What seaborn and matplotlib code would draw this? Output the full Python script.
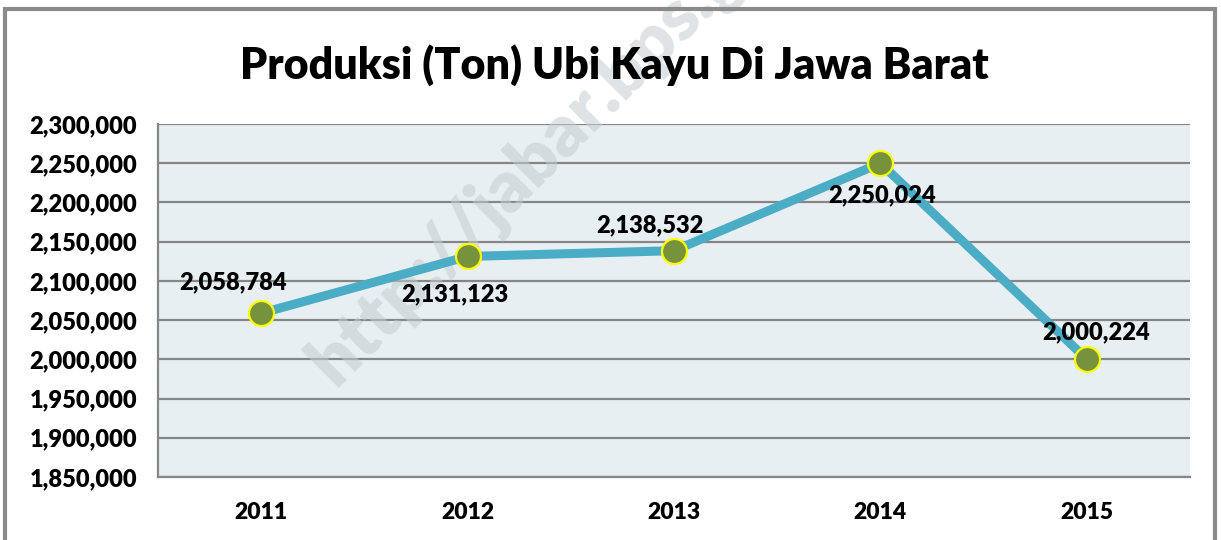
import pandas as pd
import numpy as np
import matplotlib as mpl
import matplotlib.pyplot as plt
import seaborn as sns
from matplotlib.ticker import FuncFormatter, FixedLocator
from matplotlib.patches import Rectangle

# data
years = ['2011', '2012', '2013', '2014', '2015']
produksi = [2058784, 2131123, 2138532, 2250024, 2000224]
y_ticks = list(range(1850000, 2300001, 50000))

# label offsets in points (dx, dy)
label_offsets = [(-20, 22), (-9, -27), (-17, 18), (1, -23), (7, 19)]

df = pd.DataFrame({'tahun': years, 'produksi': produksi})

sns.set_style('white')
plt.rcParams['font.family'] = ['Lato', 'DejaVu Sans']
W = 'heavy'

fig = plt.figure(figsize=(12.21, 5.40), dpi=100)
ax = fig.add_axes([158/1221, 1-477/540, (1190-158)/1221, (477-124)/540])
ax.set_facecolor('#E8EFF3')

sns.lineplot(data=df, x='tahun', y='produksi', ax=ax, color='#4BACC6', linewidth=6.5,
             marker='o', markersize=18, markerfacecolor='#76923C', markeredgecolor='#FFFF00',
             markeredgewidth=1.6, zorder=4)

for i, (val, off) in enumerate(zip(produksi, label_offsets)):
    ax.annotate(f'{val:,}', (i, val), xytext=off, textcoords='offset points',
                ha='center', va='center', fontsize=17, fontweight=W, color='black', zorder=5)

ax.set_ylim(y_ticks[0], y_ticks[-1])
ax.set_xlim(-0.5, len(years) - 0.5)
ax.set_yticks(y_ticks)
ax.yaxis.set_major_formatter(FuncFormatter(lambda v, p: f'{int(v):,}'))
ax.yaxis.grid(True, color='#868686', linewidth=1.6, zorder=1)
ax.set_axisbelow(True)

ax.xaxis.set_minor_locator(FixedLocator(np.arange(-0.5, len(years), 1.0)))
ax.tick_params(axis='x', which='major', length=0, pad=18, labelsize=16.5, labelcolor='black')
ax.tick_params(axis='x', which='minor', length=7, width=1.4, color='#868686', direction='out')
ax.tick_params(axis='y', length=7, width=1.4, color='#868686', direction='out', pad=8,
               labelsize=17, labelcolor='black')
for lbl in ax.get_xticklabels() + ax.get_yticklabels():
    lbl.set_fontweight(W)

for side in ['top', 'right']:
    ax.spines[side].set_visible(False)
for side in ['left', 'bottom']:
    ax.spines[side].set_color('#868686')
    ax.spines[side].set_linewidth(1.6)

ax.set_xlabel('')
ax.set_ylabel('')

fig.text(0.503, 0.88, 'Produksi (Ton) Ubi Kayu Di Jawa Barat', ha='center', va='center',
         fontsize=31, fontweight=W, color='black')

# watermark
ax.text(335/1221, 1-388/540, 'http://jabar.bps.go.id', transform=fig.transFigure,
        rotation=45, rotation_mode='anchor', ha='left', va='baseline',
        fontsize=52, fontweight=W, color='#C5CCD0', alpha=0.55, zorder=2)

# outer frame
fig.patches.append(Rectangle((5/1221, -0.02), 1210/1221, 1 - 9/540 + 0.02, transform=fig.transFigure,
                             fill=False, edgecolor='#8A8A8A', linewidth=3))

fig.savefig('out.png', dpi=100)
